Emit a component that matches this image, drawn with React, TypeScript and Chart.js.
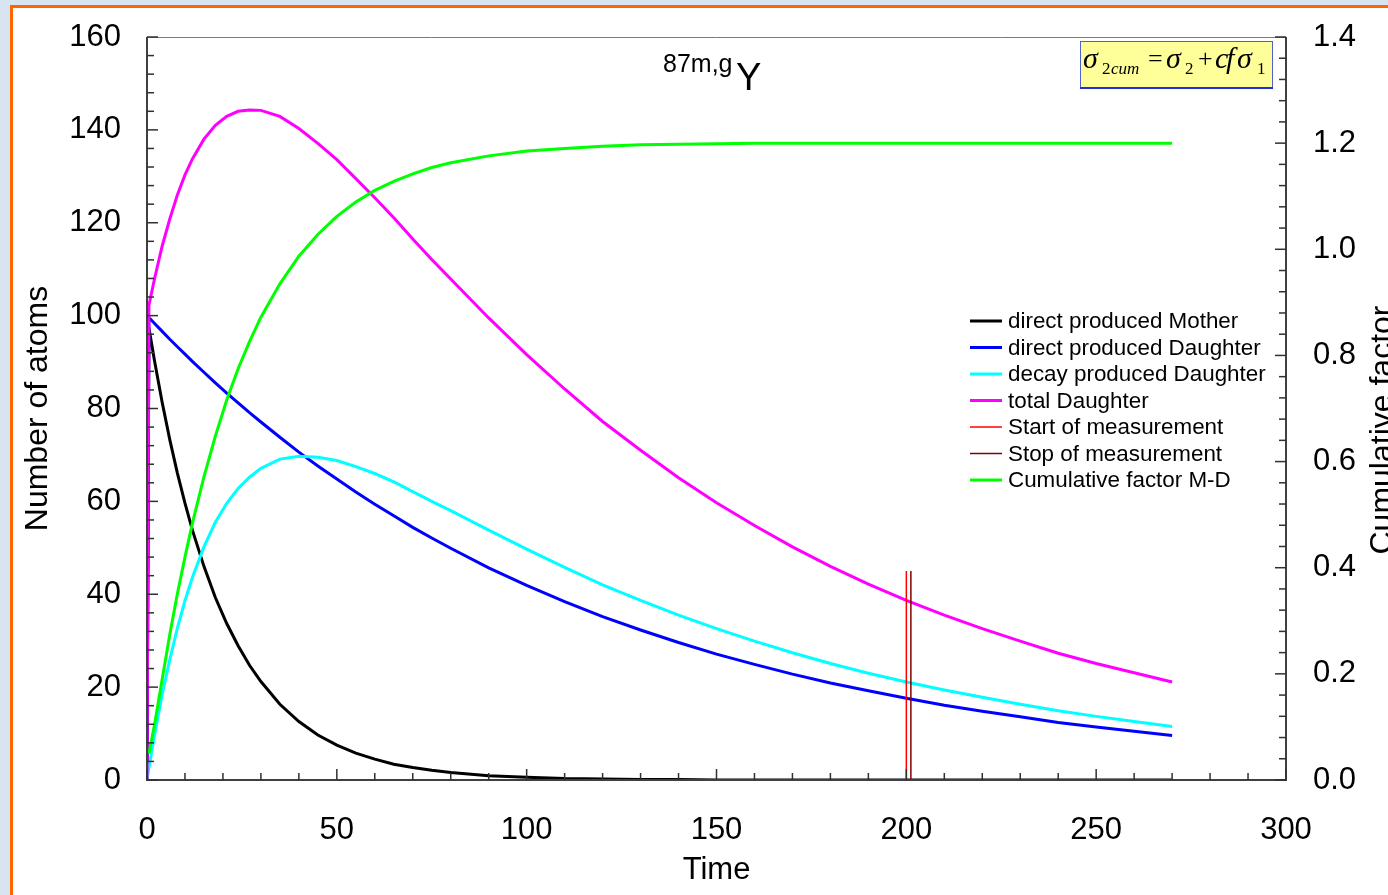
import React, { useEffect, useRef } from 'react';
import { Chart, registerables } from 'chart.js';

Chart.register(...registerables);

// ---- data ----
const times = [0, 0.5, 2, 4, 6, 8, 10, 12, 15, 18, 21, 24, 27, 30, 35, 40, 45, 50, 55, 60, 65, 70, 75, 80, 90, 100, 110, 120, 130, 140, 150, 160, 170, 180, 190, 200, 210, 220, 230, 240, 250, 260, 270];

const motherDirect = [0, 97.4, 90.2, 81.3, 73.3, 66.1, 59.6, 53.7, 46.0, 39.3, 33.7, 28.9, 24.7, 21.2, 16.3, 12.6, 9.7, 7.5, 5.8, 4.5, 3.4, 2.7, 2.1, 1.6, 0.9, 0.6, 0.3, 0.2, 0.1, 0.1, 0, 0, 0, 0, 0, 0, 0, 0, 0, 0, 0, 0, 0];

const daughterDirect = [0, 99.6, 98.3, 96.6, 94.9, 93.3, 91.7, 90.1, 87.8, 85.5, 83.3, 81.2, 79.1, 77.1, 73.8, 70.6, 67.6, 64.8, 62.0, 59.4, 56.9, 54.4, 52.1, 49.9, 45.7, 41.9, 38.4, 35.2, 32.3, 29.6, 27.1, 24.9, 22.8, 20.9, 19.2, 17.6, 16.1, 14.8, 13.6, 12.4, 11.4, 10.5, 9.6];

const daughterDecay = [0, 2.6, 9.7, 18.4, 25.9, 32.7, 38.6, 43.7, 50.2, 55.5, 59.6, 62.8, 65.2, 67.1, 69.1, 69.7, 69.5, 68.8, 67.5, 66.0, 64.2, 62.1, 60.0, 58.0, 53.8, 49.7, 45.8, 42.0, 38.7, 35.5, 32.6, 29.9, 27.4, 25.1, 23.0, 21.1, 19.4, 17.8, 16.3, 14.9, 13.7, 12.6, 11.5];

const daughterTotal = [0, 102.2, 108.0, 115.0, 120.8, 126.0, 130.3, 133.8, 138.0, 141.0, 142.9, 144.0, 144.3, 144.2, 142.9, 140.3, 137.1, 133.6, 129.5, 125.4, 121.1, 116.5, 112.1, 107.9, 99.5, 91.6, 84.2, 77.2, 71.0, 65.1, 59.7, 54.8, 50.2, 46.0, 42.2, 38.7, 35.5, 32.6, 29.9, 27.3, 25.1, 23.1, 21.1];

const cumFactor = [null, 0.05, 0.105, 0.19, 0.274, 0.351, 0.42, 0.485, 0.571, 0.648, 0.716, 0.775, 0.826, 0.872, 0.935, 0.987, 1.028, 1.062, 1.089, 1.111, 1.128, 1.142, 1.154, 1.163, 1.176, 1.185, 1.19, 1.194, 1.197, 1.198, 1.199, 1.2, 1.2, 1.2, 1.2, 1.2, 1.2, 1.2, 1.2, 1.2, 1.2, 1.2, 1.2];

const startTime = [200, 200];
const stopTime = [201.2, 201.2];
const markerHeight = [0, 45];

const seriesLabels = [
  'direct produced Mother',
  'direct produced Daughter',
  'decay produced Daughter',
  'total Daughter',
  'Start of measurement',
  'Stop of measurement',
  'Cumulative factor M-D',
];

const yTicksLeft = { min: 0, max: 160, step: 20 };
const yTicksRight = { min: 0, max: 1.4, step: 0.2 };
const xTicks = { min: 0, max: 300, step: 50 };

const SANS = '"Liberation Sans", Arial, Helvetica, sans-serif';
const SERIF = '"Liberation Serif", "Times New Roman", serif';

const pts = (xs: number[], ys: (number | null)[]) => xs.map((x, i) => ({ x, y: ys[i] }));

const decorPlugin = {
  id: 'decor',
  afterDraw(chart: any) {
    const ctx = chart.ctx as CanvasRenderingContext2D;
    const { left, right, top, bottom } = chart.chartArea;
    ctx.save();

    // frame
    ctx.strokeStyle = '#7a7a7a';
    ctx.lineWidth = 1;
    ctx.beginPath();
    ctx.moveTo(left, top + 0.5);
    ctx.lineTo(right, top + 0.5);
    ctx.stroke();
    ctx.strokeStyle = '#404040';
    ctx.lineWidth = 2;
    ctx.beginPath();
    ctx.moveTo(left, top);
    ctx.lineTo(left, bottom);
    ctx.lineTo(right, bottom);
    ctx.lineTo(right, top);
    ctx.stroke();

    // inward tick marks
    ctx.lineWidth = 1.5;
    ctx.strokeStyle = '#303030';
    const drawTicks = (scale: any, step: number, majorEvery: number, side: string) => {
      const minor = step / 5;
      const n = Math.round((scale.max - scale.min) / minor);
      for (let i = 0; i <= n; i++) {
        const v = scale.min + i * minor;
        const p = scale.getPixelForValue(v);
        const len = i % majorEvery === 0 ? 11 : 7;
        ctx.beginPath();
        if (side === 'left') { ctx.moveTo(left, p); ctx.lineTo(left + len, p); }
        else if (side === 'right') { ctx.moveTo(right, p); ctx.lineTo(right - len, p); }
        else { ctx.moveTo(p, bottom); ctx.lineTo(p, bottom - len); }
        ctx.stroke();
      }
    };
    drawTicks(chart.scales.y, yTicksLeft.step, 5, 'left');
    drawTicks(chart.scales.y1, yTicksRight.step, 5, 'right');
    drawTicks(chart.scales.x, xTicks.step, 5, 'bottom');

    // nuclide title
    ctx.fillStyle = '#000';
    ctx.textAlign = 'left';
    ctx.textBaseline = 'alphabetic';
    ctx.font = `25px ${SANS}`;
    ctx.fillText('87m,g', 663, 72);
    ctx.font = `38px ${SANS}`;
    ctx.fillText('Y', 736, 90);

    // formula box
    ctx.fillStyle = '#ffff99';
    ctx.fillRect(1080, 41, 193, 48);
    ctx.strokeStyle = '#5060d0';
    ctx.lineWidth = 1;
    ctx.strokeRect(1080.5, 41.5, 192, 47);
    ctx.strokeStyle = '#2030e0';
    ctx.lineWidth = 2;
    ctx.beginPath();
    ctx.moveTo(1080, 88);
    ctx.lineTo(1273, 88);
    ctx.stroke();
    ctx.fillStyle = '#000';
    const big = 30, small = 17, op = 26, base = 68, sub = 74;
    ctx.font = `italic ${big}px ${SERIF}`;
    ctx.fillText('σ', 1083, base);
    ctx.font = `${small}px ${SERIF}`;
    ctx.fillText('2', 1102, sub);
    ctx.font = `italic ${small}px ${SERIF}`;
    ctx.fillText('cum', 1111, sub);
    ctx.font = `${op}px ${SERIF}`;
    ctx.fillText('=', 1148, base - 1);
    ctx.font = `italic ${big}px ${SERIF}`;
    ctx.fillText('σ', 1166, base);
    ctx.font = `${small}px ${SERIF}`;
    ctx.fillText('2', 1185, sub);
    ctx.font = `${op}px ${SERIF}`;
    ctx.fillText('+', 1198, base - 1);
    ctx.font = `italic ${big}px ${SERIF}`;
    ctx.fillText('c', 1215, base);
    ctx.fillText('f', 1226, base);
    ctx.fillText('σ', 1237, base);
    ctx.font = `${small}px ${SERIF}`;
    ctx.fillText('1', 1257, sub);

    // right axis title (reads bottom to top)
    ctx.save();
    ctx.translate(1383, 430);
    ctx.rotate(-Math.PI / 2);
    ctx.font = `32px ${SANS}`;
    ctx.textAlign = 'center';
    ctx.textBaseline = 'middle';
    ctx.fillStyle = '#000';
    ctx.fillText('Cumulative factor', 0, 0);
    ctx.restore();

    // legend
    const lx0 = 970, lx1 = 1002, tx = 1008, y0 = 321, dy = 26.5;
    ctx.font = `22.4px ${SANS}`;
    ctx.textBaseline = 'middle';
    ctx.textAlign = 'left';
    chart.data.datasets.forEach((ds: any, i: number) => {
      const y = y0 + i * dy;
      ctx.strokeStyle = ds.borderColor;
      ctx.lineWidth = ds.borderWidth;
      ctx.beginPath();
      ctx.moveTo(lx0, y);
      ctx.lineTo(lx1, y);
      ctx.stroke();
      ctx.fillStyle = '#000';
      ctx.fillText(ds.label, tx, y + 1);
    });

    ctx.restore();
  },
};

export default function App() {
  const ref = useRef<HTMLCanvasElement>(null);

  useEffect(() => {
    const axisFont = { family: SANS, size: 31 };
    const datasets: any[] = [
      { label: seriesLabels[0], data: pts(times, motherDirect), borderColor: '#000000', borderWidth: 3, yAxisID: 'y', order: 0 },
      { label: seriesLabels[1], data: pts(times, daughterDirect), borderColor: '#0000ff', borderWidth: 3, yAxisID: 'y', order: -1 },
      { label: seriesLabels[2], data: pts(times, daughterDecay), borderColor: '#00ffff', borderWidth: 3, yAxisID: 'y', order: -2 },
      { label: seriesLabels[3], data: pts(times, daughterTotal), borderColor: '#ff00ff', borderWidth: 3, yAxisID: 'y', order: -3 },
      { label: seriesLabels[4], data: pts(startTime, markerHeight), borderColor: '#ff0000', borderWidth: 1.5, yAxisID: 'y', order: -4 },
      { label: seriesLabels[5], data: pts(stopTime, markerHeight), borderColor: '#800000', borderWidth: 1.5, yAxisID: 'y', order: -5 },
      { label: seriesLabels[6], data: pts(times, cumFactor), borderColor: '#00ff00', borderWidth: 3, yAxisID: 'y1', order: -6 },
    ];
    datasets.forEach((d) => { d.fill = false; d.pointRadius = 0; d.tension = 0; d.spanGaps = false; });

    const fixV = (w: number) => (s: any) => { s.width = w; s.paddingTop = 0; s.paddingBottom = 0; };

    const chart = new Chart(ref.current as HTMLCanvasElement, {
      type: 'line',
      data: { datasets },
      options: {
        responsive: false,
        maintainAspectRatio: false,
        animation: false,
        layout: { padding: { top: 37, left: 0, right: 0, bottom: 0 } },
        plugins: {
          legend: { display: false },
          tooltip: { enabled: false },
          title: { display: false },
        },
        scales: {
          x: {
            type: 'linear',
            position: 'bottom',
            min: xTicks.min,
            max: xTicks.max,
            ticks: { stepSize: xTicks.step, font: axisFont, color: '#000', padding: 32, maxRotation: 0, autoSkip: false },
            grid: { display: false, drawTicks: false },
            border: { display: false },
            title: { display: true, text: 'Time', font: axisFont, color: '#000', padding: { top: 12, bottom: 6 } },
            afterFit: (s: any) => { s.height = 115; s.paddingLeft = 0; s.paddingRight = 0; },
          },
          y: {
            type: 'linear',
            position: 'left',
            min: yTicksLeft.min,
            max: yTicksLeft.max,
            ticks: { stepSize: yTicksLeft.step, font: axisFont, color: '#000', padding: 26 },
            grid: { display: false, drawTicks: false },
            border: { display: false },
            title: { display: true, text: 'Number of atoms', font: { family: SANS, size: 32 }, color: '#000', padding: { top: 19, bottom: 0 } },
            afterFit: fixV(147),
          },
          y1: {
            type: 'linear',
            position: 'right',
            min: yTicksRight.min,
            max: yTicksRight.max,
            ticks: { stepSize: yTicksRight.step, font: axisFont, color: '#000', padding: 27, callback: (v: any) => Number(v).toFixed(1) },
            grid: { display: false, drawTicks: false },
            border: { display: false },
            afterFit: fixV(102),
          },
        },
      } as any,
      plugins: [decorPlugin],
    });
    return () => chart.destroy();
  }, []);

  return (
    <div style={{ position: 'fixed', left: 0, top: 0, width: 1388, height: 895, overflow: 'hidden', background: '#d8e5f1' }}>
      <div style={{ position: 'absolute', left: 10, top: 5, width: 1500, height: 1000, border: '3px solid #ff6600', background: '#ffffff' }} />
      <canvas ref={ref} width={1388} height={895} style={{ position: 'absolute', left: 0, top: 0, width: 1388, height: 895 }} />
    </div>
  );
}
